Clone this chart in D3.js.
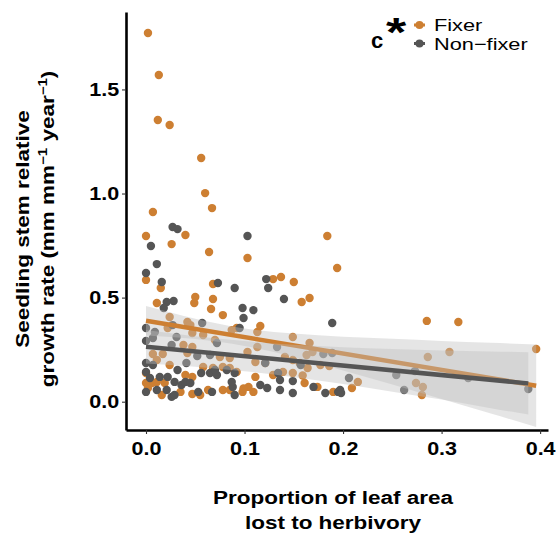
<!DOCTYPE html>
<html>
<head>
<meta charset="utf-8">
<script src="https://cdn.jsdelivr.net/npm/d3@7"></script>
<style>
  html, body { margin: 0; padding: 0; background: #fff; }
  svg { display: block; font-family: "Liberation Sans", Arial, sans-serif; }
</style>
</head>
<body>
<svg id="chart" width="559" height="536"></svg>
<script>
// Herbivory vs. seedling stem relative growth rate, by N-fixing status

const groups = ["Fixer", "Non\u2212fixer"];
const groupColors = ["#cd7f32", "#555555"];

// [proportion of leaf area lost, stem RGR] per seedling
const fixerPoints = [
  [0.002,1.771],[0.013,1.569],[0.012,1.353],[0.024,1.329],[0.056,1.171],[0.060,1.002],[0.067,0.930],
  [0.007,0.911],[0.000,0.796],[0.040,0.801],[0.184,0.796],[0.026,0.757],[0.064,0.719],[0.103,0.690],
  [0.194,0.642],[0.000,0.585],[0.015,0.546],[0.068,0.565],[0.129,0.589],[0.137,0.599],[0.150,0.575],
  [0.166,0.498],[0.158,0.479],[0.050,0.503],[0.068,0.493],[0.011,0.474],[0.049,0.474],[0.066,0.445],
  [0.078,0.416],[0.285,0.388],[0.317,0.383],[0.396,0.253],
  [0.024,0.407],[0.042,0.383],[0.045,0.368],[0.022,0.354],[0.047,0.330],[0.058,0.320],[0.038,0.272],
  [0.047,0.263],[0.070,0.296],[0.087,0.344],[0.092,0.354],[0.113,0.335],[0.116,0.364],[0.113,0.263],
  [0.149,0.311],[0.166,0.282],[0.007,0.229],[0.017,0.229],[0.042,0.234],[0.075,0.215],[0.085,0.210],
  [0.103,0.239],[0.111,0.191],[0.121,0.186],[0.141,0.215],[0.149,0.200],[0.156,0.186],[0.163,0.224],
  [0.169,0.239],[0.177,0.176],[0.186,0.171],[0.164,0.162],[0.286,0.215],[0.308,0.239],[0.274,0.090],
  [0.281,0.071],
  [0.011,0.200],[0.000,0.138],[0.024,0.176],[0.040,0.128],[0.047,0.119],[0.058,0.167],[0.068,0.162],
  [0.078,0.167],[0.085,0.162],[0.092,0.143],[0.111,0.119],[0.129,0.128],[0.139,0.143],[0.149,0.138],
  [0.159,0.126],[0.006,0.090],[0.011,0.095],[0.019,0.090],[0.000,0.090],[0.002,0.066],[0.016,0.032],
  [0.035,0.047],[0.047,0.037],[0.055,0.032],[0.063,0.056],[0.078,0.056],[0.085,0.056],[0.098,0.047],
  [0.104,0.071],[0.099,0.064],[0.109,0.047],[0.161,0.090],[0.174,0.071],[0.190,0.047],[0.209,0.066],
  [0.215,0.095],[0.280,0.032]
];

const nonFixerPoints = [
  [0.027,0.839],[0.032,0.829],[0.103,0.796],[0.005,0.748],[0.011,0.661],[0.000,0.618],[0.016,0.575],
  [0.073,0.570],[0.090,0.546],[0.122,0.589],[0.124,0.546],[0.140,0.493],[0.028,0.484],[0.021,0.479],
  [0.018,0.450],[0.098,0.450],[0.109,0.440],[0.099,0.402],[0.189,0.378],
  [0.057,0.378],[0.000,0.354],[0.009,0.335],[0.027,0.368],[0.031,0.311],[0.000,0.292],[0.007,0.306],
  [0.026,0.272],[0.072,0.282],[0.095,0.354],[0.133,0.263],[0.052,0.219],[0.065,0.224],[0.180,0.229],
  [0.189,0.234],[0.157,0.176],[0.121,0.186],[0.206,0.114],[0.254,0.128],[0.273,0.147],[0.327,0.114],
  [0.388,0.061],
  [0.000,0.186],[0.007,0.176],[0.000,0.143],[0.004,0.114],[0.014,0.119],[0.032,0.152],[0.041,0.186],
  [0.056,0.138],[0.065,0.138],[0.070,0.152],[0.072,0.128],[0.082,0.152],[0.090,0.138],[0.134,0.138],
  [0.136,0.104],[0.149,0.099],[0.022,0.119],[0.029,0.095],[0.036,0.080],[0.040,0.095],[0.045,0.090],
  [0.000,0.047],[0.011,0.056],[0.021,0.056],[0.026,0.023],[0.029,0.032],[0.053,0.047],[0.067,0.047],
  [0.090,0.032],[0.088,0.071],[0.087,0.095],[0.116,0.080],[0.123,0.066],[0.136,0.056],[0.149,0.042],
  [0.170,0.071],[0.182,0.042],[0.195,0.047],[0.197,0.056],[0.198,0.042],[0.262,0.056]
];

// Linear fits: [x, fitted y] at the ends of each group's range
const fixerFit = [[0.000, 0.389], [0.396, 0.077]];
const nonFixerFit = [[0.000, 0.264], [0.388, 0.088]];

// 95% confidence band of each fit: [x, lower, upper]
const fixerBand = [
  [0.000,0.318,0.460],[0.050,0.301,0.399],[0.100,0.268,0.352],[0.150,0.215,0.327],[0.200,0.150,0.312],
  [0.250,0.082,0.302],[0.300,0.013,0.292],[0.350,-0.057,0.283],[0.396,-0.121,0.275]
];
const nonFixerBand = [
  [0.000,0.184,0.344],[0.050,0.168,0.314],[0.100,0.146,0.291],[0.150,0.118,0.274],[0.200,0.085,0.262],
  [0.250,0.048,0.253],[0.300,0.010,0.246],[0.350,-0.031,0.241],[0.388,-0.062,0.238]
];

const xTicks = [0.0, 0.1, 0.2, 0.3, 0.4];
const yTicks = [0.0, 0.5, 1.0, 1.5];

const svg = d3.select("#chart");

const x = d3.scaleLinear().domain([-0.0203, 0.408]).range([126, 548]);
const y = d3.scaleLinear().domain([-0.136, 1.872]).range([430, 12]);

// points
const pointsG = svg.append("g");
[[fixerPoints, 0], [nonFixerPoints, 1]].forEach(([pts, gi]) => {
  pointsG.selectAll(null).data(pts).join("circle")
    .attr("cx", d => x(d[0]))
    .attr("cy", d => y(d[1]))
    .attr("r", 4.2)
    .attr("fill", groupColors[gi]);
});

// smoothers: ribbon then line, one group after the other
const area = d3.area()
  .x(d => x(d[0]))
  .y0(d => y(d[1]))
  .y1(d => y(d[2]))
  .curve(d3.curveMonotoneX);
const line = d3.line().x(d => x(d[0])).y(d => y(d[1]));

[[fixerBand, fixerFit, 0], [nonFixerBand, nonFixerFit, 1]].forEach(([band, fit, gi]) => {
  svg.append("path").datum(band)
    .attr("d", area)
    .attr("fill", "#bdbdbd")
    .attr("fill-opacity", 0.4);
  svg.append("path").datum(fit)
    .attr("d", line)
    .attr("fill", "none")
    .attr("stroke", groupColors[gi])
    .attr("stroke-width", 4.5);
});

// axes
const fmt = d3.format(".1f");
const xAxis = svg.append("g")
  .attr("transform", "translate(0,430)")
  .call(d3.axisBottom(x).tickValues(xTicks).tickFormat(fmt).tickSize(4).tickSizeOuter(0).tickPadding(4));
const yAxis = svg.append("g")
  .attr("transform", "translate(126,0)")
  .call(d3.axisLeft(y).tickValues(yTicks).tickFormat(fmt).tickSize(4).tickSizeOuter(0).tickPadding(1.5));

[xAxis, yAxis].forEach(g => {
  g.select(".domain").attr("stroke", "#000").attr("stroke-width", 2.6);
  g.selectAll(".tick line").attr("stroke", "#333").attr("stroke-width", 1.1);
  g.selectAll(".tick text")
    .attr("fill", "#000")
    .attr("font-size", 17.5)
    .attr("font-weight", "bold")
    .attr("font-family", "'Liberation Sans', Arial, sans-serif")
    .attr("transform", "scale(1.23,1)");
});
xAxis.selectAll(".tick text").attr("dy", "0.95em");
yAxis.selectAll(".tick text").attr("dy", "0.36em");

// axis titles
const titleFont = "'Liberation Sans', Arial, sans-serif";
const xt = svg.append("text")
  .attr("transform", "translate(333,0) scale(1.25,1)")
  .attr("text-anchor", "middle")
  .attr("font-family", titleFont)
  .attr("font-size", 18)
  .attr("font-weight", "bold")
  .attr("fill", "#000");
xt.append("tspan").attr("x", 0).attr("y", 504).text("Proportion of leaf area");
xt.append("tspan").attr("x", 0).attr("y", 529).text("lost to herbivory");

const yt = svg.append("text")
  .attr("transform", "translate(0,229) rotate(-90) scale(1.25,1)")
  .attr("text-anchor", "middle")
  .attr("font-family", titleFont)
  .attr("font-size", 18)
  .attr("font-weight", "bold")
  .attr("fill", "#000");
yt.append("tspan").attr("x", 0).attr("y", 29).text("Seedling stem relative");
yt.append("tspan").attr("x", 0).attr("y", 54).text("growth rate (mm mm");
yt.append("tspan").attr("dy", -7).attr("font-size", 12).text("\u22121");
yt.append("tspan").attr("dy", 7).text(" year");
yt.append("tspan").attr("dy", -7).attr("font-size", 12).text("\u22121");
yt.append("tspan").attr("dy", 7).text(")");

// panel tag
svg.append("text")
  .attr("transform", "translate(371,48)")
  .attr("font-family", titleFont).attr("font-size", 22).attr("font-weight", "bold")
  .text("c");
svg.append("text")
  .attr("transform", "translate(386,46) scale(1.3,1)")
  .attr("font-family", titleFont).attr("font-size", 40).attr("font-weight", "bold")
  .text("*");

// legend
const legend = svg.append("g");
groups.forEach((g, i) => {
  const cy = 25 + i * 18.5;
  legend.append("line")
    .attr("x1", 414).attr("x2", 425).attr("y1", cy).attr("y2", cy)
    .attr("stroke", groupColors[i]).attr("stroke-width", 3);
  legend.append("circle")
    .attr("cx", 419.5).attr("cy", cy).attr("r", 4)
    .attr("fill", groupColors[i]);
  legend.append("text")
    .attr("transform", `translate(434,${cy + 6}) scale(1.28,1)`)
    .attr("font-family", titleFont).attr("font-size", 17)
    .attr("fill", "#000")
    .text(g);
});
</script>
</body>
</html>
